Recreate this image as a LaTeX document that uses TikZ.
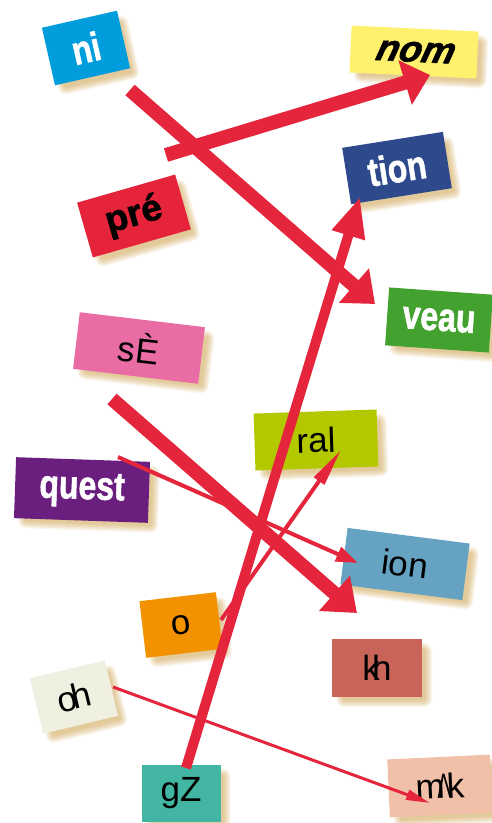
\documentclass[tikz,border=0pt]{standalone}
\usepackage{fontspec}
\setmainfont{Liberation Sans}
\newfontfamily\heavyfont[FakeBold=1.6]{Liberation Sans Bold}
\usepackage{graphicx}
\usetikzlibrary{arrows.meta,calc}
\definecolor{redarrow}{HTML}{E4253C}
\definecolor{shadowcol}{HTML}{C8973A}
\definecolor{cNi}{HTML}{009DDC}
\definecolor{cPre}{HTML}{E5243C}
\definecolor{cNom}{HTML}{FFF06E}
\definecolor{cTion}{HTML}{2E4A8C}
\definecolor{cVeau}{HTML}{43A22F}
\definecolor{cSe}{HTML}{EA6CA4}
\definecolor{cQuest}{HTML}{6A1F7F}
\definecolor{cRal}{HTML}{B4C800}
\definecolor{cIon}{HTML}{66A3C3}
\definecolor{cO}{HTML}{F39200}
\definecolor{cOh}{HTML}{EFF0E0}
\definecolor{cGz}{HTML}{42B5A3}
\definecolor{cKh}{HTML}{C96459}
\definecolor{cMk}{HTML}{F0C0A8}
\newcommand\cnd[1]{\scalebox{0.8}[1]{#1}}
\newcommand\cardshadow[5]{% cx, cy, w, h, rot
 \begin{scope}[shift={(#1+7,#2+7)}, rotate=#5]
 \foreach \i in {0,...,7}{
   \fill[shadowcol, opacity=0.085, rounded corners=\i pt+1pt]
     ({-#3/2+4-\i},{-#4/2+4-\i}) rectangle ({#3/2-4+\i},{#4/2-4+\i});
 }
 \end{scope}}
\tikzset{
  card/.style={rectangle, inner sep=0pt, align=center},
  boldc/.style={font=\fontsize{40}{40}\heavyfont, text=white},
  boldk/.style={font=\fontsize{37}{37}\heavyfont, text=black},
  boldi/.style={font=\fontsize{37}{37}\heavyfont\itshape, text=black},
  reg/.style={font=\fontsize{35}{35}\selectfont, text=black},
  redline/.style={draw=redarrow, fill=redarrow},
}
\begin{document}
\begin{tikzpicture}[x=1pt,y=-1pt]
\useasboundingbox (0,0) rectangle (491,823);
% shadows
\cardshadow{86}{48}{77}{59}{12.8}
\cardshadow{134}{216}{102}{57}{16}
\cardshadow{414}{52}{127}{47}{-2.7}
\cardshadow{397}{168}{102}{57}{9}
\cardshadow{439}{320}{104}{58}{-4}
\cardshadow{139}{348}{126}{57}{-6.8}
\cardshadow{82}{490}{134}{61}{-2}
\cardshadow{316}{440}{123}{57}{1.9}
\cardshadow{405}{564}{123}{57}{-7.3}
\cardshadow{181}{625}{77}{57}{6.7}
\cardshadow{74}{697}{77}{57}{13.5}
\cardshadow{181}{793}{79}{57}{0}
\cardshadow{377}{668}{90}{58}{0}
\cardshadow{440}{786}{103}{58}{2.7}
% cards
\node[card, boldc, fill=cNi, minimum width=77pt, minimum height=59pt, rotate=12.8] (ni) at (86,48) {\cnd{ni}};
\node[card, boldk, fill=cPre, minimum width=102pt, minimum height=57pt, rotate=16] (pre) at (134,216) {pré};
\node[card, boldi, fill=cNom, minimum width=127pt, minimum height=47pt, rotate=-2.7] (nom) at (414,52) {\fontspec[FakeBold=1.6,FakeSlant=0.2]{Liberation Sans Bold}nom};
\node[card, boldc, fill=cTion, minimum width=102pt, minimum height=57pt, rotate=9] (tion) at (397,168) {\cnd{tion}};
\node[card, boldc, fill=cVeau, minimum width=104pt, minimum height=58pt, rotate=-4] (veau) at (439,320) {\cnd{veau}};
\node[card, reg, fill=cSe, minimum width=126pt, minimum height=57pt, rotate=-6.8] (se) at (139,348) {sÈ};
\node[card, boldc, fill=cQuest, minimum width=134pt, minimum height=61pt, rotate=-2] (quest) at (82,490) {\cnd{quest}};
\node[card, reg, fill=cRal, minimum width=123pt, minimum height=57pt, rotate=1.9] (ral) at (316,440) {ral};
\node[card, reg, fill=cIon, minimum width=123pt, minimum height=57pt, rotate=-7.3] (ion) at (405,564) {ion};
\node[card, reg, fill=cO, minimum width=77pt, minimum height=57pt, rotate=6.7] (o) at (181,625) {o};
\node[card, reg, fill=cOh, minimum width=77pt, minimum height=57pt, rotate=13.5] (oh) at (74,697) {o\kern-0.12em h};
\node[card, reg, fill=cGz, minimum width=79pt, minimum height=57pt] (gz) at (181,793) {gZ};
\node[card, reg, fill=cKh, minimum width=90pt, minimum height=58pt] (kh) at (377,668) {k\kern-0.22em h};
\node[card, reg, fill=cMk, minimum width=103pt, minimum height=58pt, rotate=2.7] (mk) at (440,786) {m\kern-0.22em\scalebox{0.6}[1]{Λ}\kern-0.12em k};
% arrow end points
\coordinate (s1) at (130,90);   \coordinate (t1) at (375,304);
\coordinate (s2) at (166,155);  \coordinate (t2) at (430,75);
\coordinate (s3) at (186,768);  \coordinate (t3) at (360,197);
\coordinate (s4) at (112,399);  \coordinate (t4) at (357,613);
\coordinate (s5) at (118,457);  \coordinate (t5) at (358,563);
\coordinate (s6) at (221,620);  \coordinate (t6) at (341,450);
\coordinate (s7) at (113,687);  \coordinate (t7) at (430,803);
% arrows
\draw[redline, line width=14pt, -{Triangle[length=28pt,width=44pt]}] (s1) -- (t1);
\draw[redline, line width=14pt, -{Triangle[length=26pt,width=45pt]}] (s2) -- (t2);
\draw[redline, line width=10pt, -{Triangle[length=40pt,width=32pt]}] (s3) -- (t3);
\draw[redline, line width=14pt, -{Triangle[length=30pt,width=45pt]}] (s4) -- (t4);
\draw[redline, line width=4pt, -{Triangle[length=22pt,width=15pt]}] (s5) -- (t5);
\draw[redline, line width=4pt, -{Triangle[length=38pt,width=12pt]}] (s6) -- (t6);
\draw[redline, line width=3pt, -{Triangle[length=24pt,width=10pt]}] (s7) -- (t7);
\end{tikzpicture}
\end{document}
